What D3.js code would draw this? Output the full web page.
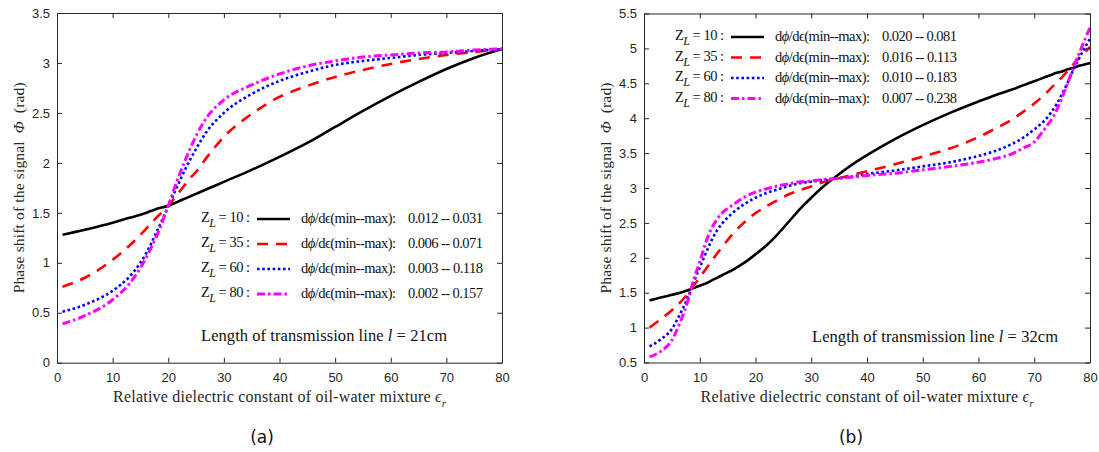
<!DOCTYPE html>
<html>
<head>
<meta charset="utf-8">
<script src="https://cdn.jsdelivr.net/npm/d3@7"></script>
<style>
  body { margin: 0; background: #fff; }
  svg { display: block; }
</style>
</head>
<body>
<div id="chart"></div>
<script>

// ---- data ----
// panel (a): line length 21 cm
var epsA = [1, 5, 10, 13, 15, 17, 18, 19, 20, 21, 22, 23, 24, 25, 27, 30, 35, 40, 45, 50, 55, 60, 65, 70, 75, 80];
var phiA_Z10 = [1.28, 1.33, 1.40, 1.45, 1.48, 1.52, 1.54, 1.555, 1.57, 1.594, 1.618, 1.642, 1.666, 1.69, 1.738, 1.81, 1.93, 2.06, 2.20, 2.36, 2.52, 2.67, 2.81, 2.94, 3.05, 3.14];
var phiA_Z35 = [0.76, 0.85, 1.03, 1.17, 1.28, 1.40, 1.46, 1.51, 1.57, 1.64, 1.71, 1.78, 1.85, 1.91, 2.06, 2.26, 2.49, 2.66, 2.77, 2.86, 2.93, 2.99, 3.04, 3.08, 3.11, 3.14];
var phiA_Z60 = [0.51, 0.58, 0.72, 0.86, 1.00, 1.20, 1.32, 1.44, 1.57, 1.69, 1.81, 1.93, 2.04, 2.14, 2.32, 2.50, 2.69, 2.82, 2.91, 2.98, 3.02, 3.05, 3.08, 3.10, 3.12, 3.14];
var phiA_Z80 = [0.39, 0.47, 0.63, 0.79, 0.95, 1.16, 1.28, 1.42, 1.57, 1.73, 1.88, 2.02, 2.15, 2.27, 2.46, 2.63, 2.78, 2.89, 2.97, 3.02, 3.06, 3.08, 3.10, 3.11, 3.13, 3.14];

// panel (b): line length 32 cm
var epsB = [1, 3, 5, 6.5, 8, 8.5, 9, 10, 11, 12, 13, 14, 16, 18, 20, 22, 24, 26, 28, 30, 32, 35, 38, 40, 45, 50, 55, 60, 63, 66, 68, 70, 72, 73, 74, 75, 76, 77, 78, 79, 80];
var phiB_Z10 = [1.39, 1.43, 1.47, 1.50, 1.54, 1.555, 1.57, 1.60, 1.63, 1.67, 1.71, 1.75, 1.83, 1.93, 2.05, 2.18, 2.34, 2.52, 2.70, 2.86, 3.01, 3.20, 3.37, 3.47, 3.70, 3.90, 4.08, 4.24, 4.33, 4.41, 4.47, 4.53, 4.59, 4.62, 4.65, 4.67, 4.70, 4.72, 4.75, 4.77, 4.79];
var phiB_Z35 = [1.00, 1.12, 1.25, 1.36, 1.50, 1.55, 1.61, 1.72, 1.83, 1.94, 2.05, 2.15, 2.35, 2.51, 2.64, 2.74, 2.83, 2.91, 2.97, 3.02, 3.08, 3.14, 3.20, 3.24, 3.34, 3.45, 3.57, 3.73, 3.85, 3.98, 4.09, 4.21, 4.35, 4.43, 4.51, 4.59, 4.68, 4.77, 4.86, 4.94, 5.02];
var phiB_Z60 = [0.73, 0.83, 0.98, 1.20, 1.46, 1.57, 1.67, 1.86, 2.05, 2.23, 2.38, 2.49, 2.65, 2.77, 2.86, 2.93, 2.98, 3.03, 3.07, 3.09, 3.11, 3.14, 3.17, 3.20, 3.25, 3.31, 3.37, 3.46, 3.53, 3.63, 3.72, 3.84, 3.98, 4.08, 4.20, 4.35, 4.51, 4.69, 4.85, 5.00, 5.14];
var phiB_Z80 = [0.58, 0.66, 0.82, 1.08, 1.42, 1.57, 1.71, 1.94, 2.20, 2.40, 2.54, 2.64, 2.76, 2.87, 2.94, 2.99, 3.03, 3.06, 3.09, 3.10, 3.12, 3.14, 3.16, 3.18, 3.21, 3.26, 3.31, 3.37, 3.42, 3.49, 3.57, 3.66, 3.86, 3.97, 4.11, 4.30, 4.50, 4.72, 4.92, 5.11, 5.30];

var loadZ = ["10", "35", "60", "80"];
var rangesA = ["0.012 -- 0.031", "0.006 -- 0.071", "0.003 -- 0.118", "0.002 -- 0.157"];
var rangesB = ["0.020 -- 0.081", "0.016 -- 0.113", "0.010 -- 0.183", "0.007 -- 0.238"];

var xTicks = [0, 10, 20, 30, 40, 50, 60, 70, 80];
var yTicksA = [0, 0.5, 1, 1.5, 2, 2.5, 3, 3.5];
var yTicksB = [0.5, 1, 1.5, 2, 2.5, 3, 3.5, 4, 4.5, 5, 5.5];

// ---- styles ----
var lineStyles = [
  { color: "#000000", dash: null,      width: 2.6 },
  { color: "#ff0000", dash: "11,8",    width: 2.6 },
  { color: "#0000ff", dash: "2.6,2.6", width: 2.6 },
  { color: "#ff00ff", dash: "8,3,2.5,3", width: 3 }
];

var W = 1099, H = 452;
var serifFont = "Liberation Serif";
var sansFont = "Liberation Sans";
var ink = "#262626";

var svg = d3.select("#chart").append("svg")
    .attr("width", W)
    .attr("height", H);

svg.append("rect").attr("width", W).attr("height", H).attr("fill", "#fff");

var panels = [
  {
    id: "a", box: {left: 57, right: 502, top: 13, bottom: 362.7},
    eps: epsA, series: [phiA_Z10, phiA_Z35, phiA_Z60, phiA_Z80],
    yDomain: [0, 3.5], yTicks: yTicksA, ranges: rangesA,
    legend: {x: 201, y0: 218, dy: 25},
    note: {x: 201, y: 340.5, len: "21cm"},
    ytitleX: 18.5, tag: {x: 262, y: 443}
  },
  {
    id: "b", box: {left: 644, right: 1090, top: 13.5, bottom: 362.5},
    eps: epsB, series: [phiB_Z10, phiB_Z35, phiB_Z60, phiB_Z80],
    yDomain: [0.5, 5.5], yTicks: yTicksB, ranges: rangesB,
    legend: {x: 675, y0: 36, dy: 20.5},
    note: {x: 812, y: 341.5, len: "32cm"},
    ytitleX: 606, tag: {x: 851, y: 443}
  }
];

panels.forEach(function(p) {
  var b = p.box;
  var x = d3.scaleLinear().domain([0, 80]).range([b.left, b.right]);
  var y = d3.scaleLinear().domain(p.yDomain).range([b.bottom, b.top]);
  var g = svg.append("g").attr("class", "panel-" + p.id);

  // clip for curves
  var clipId = "clip-" + p.id;
  g.append("clipPath").attr("id", clipId)
    .append("rect")
      .attr("x", b.left).attr("y", b.top)
      .attr("width", b.right - b.left).attr("height", b.bottom - b.top);

  // curves
  var line = d3.line()
      .x(function(d) { return x(d[0]); })
      .y(function(d) { return y(d[1]); })
      .curve(d3.curveMonotoneX);

  p.series.forEach(function(vals, i) {
    var st = lineStyles[i];
    var pts = p.eps.map(function(e, k) { return [e, vals[k]]; });
    g.append("path")
      .datum(pts)
      .attr("clip-path", "url(#" + clipId + ")")
      .attr("fill", "none")
      .attr("stroke", st.color)
      .attr("stroke-width", st.width)
      .attr("stroke-dasharray", st.dash)
      .attr("d", line);
  });

  // axes (ticks pointing inwards, box all round)
  var axB = g.append("g")
      .attr("transform", "translate(0," + b.bottom + ")")
      .call(d3.axisBottom(x).tickValues(xTicks).tickSizeInner(-5).tickSizeOuter(0).tickPadding(10));
  var axT = g.append("g")
      .attr("transform", "translate(0," + b.top + ")")
      .call(d3.axisTop(x).tickValues(xTicks).tickSizeInner(-5).tickSizeOuter(0).tickFormat(""));
  var axL = g.append("g")
      .attr("transform", "translate(" + b.left + ",0)")
      .call(d3.axisLeft(y).tickValues(p.yTicks).tickSizeInner(-5).tickSizeOuter(0).tickPadding(7)
        .tickFormat(d3.format("~g")));
  var axR = g.append("g")
      .attr("transform", "translate(" + b.right + ",0)")
      .call(d3.axisRight(y).tickValues(p.yTicks).tickSizeInner(-5).tickSizeOuter(0).tickFormat(""));

  [axB, axT, axL, axR].forEach(function(a) {
    a.attr("font-family", sansFont).attr("font-size", 13);
    a.selectAll("path, line").attr("stroke", ink).attr("stroke-width", 1);
    a.selectAll("text").attr("fill", ink);
  });

  // x axis title
  var xt = g.append("text")
      .attr("x", (b.left + b.right) / 2)
      .attr("y", 402)
      .attr("text-anchor", "middle")
      .attr("fill", ink)
      .attr("font-family", serifFont)
      .attr("font-size", 16)
      .attr("textLength", 333)
      .attr("lengthAdjust", "spacing");
  xt.append("tspan").text("Relative dielectric constant of oil-water mixture ");
  xt.append("tspan").attr("font-style", "italic").text("\u03f5");
  xt.append("tspan").attr("dy", 5).attr("font-style", "italic").attr("font-size", 11).text("r");

  // y axis title
  var yt = g.append("text")
      .attr("transform", "translate(" + p.ytitleX + "," + ((b.top + b.bottom) / 2) + ") rotate(-90)")
      .attr("text-anchor", "middle")
      .attr("dy", "0.35em")
      .attr("fill", ink)
      .attr("font-family", serifFont)
      .attr("font-size", 15.5)
      .attr("textLength", 211)
      .attr("lengthAdjust", "spacing");
  yt.append("tspan").text("Phase shift of the signal\u00a0 ");
  yt.append("tspan").attr("font-style", "italic").text("\u03a6");
  yt.append("tspan").text("\u00a0 (rad)");

  // legend
  var L = p.legend;
  loadZ.forEach(function(z, i) {
    var cy = L.y0 + i * L.dy;
    var st = lineStyles[i];
    var t = g.append("text")
        .attr("x", L.x).attr("y", cy + 4)
        .attr("fill", "#111")
        .attr("font-family", serifFont)
        .attr("font-size", 14.5)
        .attr("textLength", 49)
        .attr("lengthAdjust", "spacing");
    t.append("tspan").text("Z");
    t.append("tspan").attr("dy", 5).attr("font-style", "italic").attr("font-size", 12).text("L");
    t.append("tspan").attr("dy", -5).text(" = " + z + " :");

    g.append("line")
      .attr("x1", L.x + 56).attr("x2", L.x + 89)
      .attr("y1", cy + 1).attr("y2", cy + 1)
      .attr("stroke", st.color)
      .attr("stroke-width", st.width)
      .attr("stroke-dasharray", st.dash);

    var d = g.append("text")
        .attr("x", L.x + 100).attr("y", cy + 5)
        .attr("fill", "#111")
        .attr("font-family", serifFont)
        .attr("font-size", 14.5)
        .attr("textLength", 95)
        .attr("lengthAdjust", "spacing");
    d.append("tspan").text("d");
    d.append("tspan").attr("font-style", "italic").text("\u03d5");
    d.append("tspan").text("/d\u03f5(min--max):");

    g.append("text")
      .attr("x", L.x + 207).attr("y", cy + 5)
      .attr("fill", "#111")
      .attr("font-family", serifFont)
      .attr("font-size", 14.5)
      .attr("textLength", 75)
      .attr("lengthAdjust", "spacing")
      .text(p.ranges[i]);
  });

  // note
  var n = g.append("text")
      .attr("x", p.note.x).attr("y", p.note.y)
      .attr("fill", "#111")
      .attr("font-family", serifFont)
      .attr("font-size", 16.5)
      .attr("textLength", 246)
      .attr("lengthAdjust", "spacing");
  n.append("tspan").text("Length of transmission line ");
  n.append("tspan").attr("font-style", "italic").text("l");
  n.append("tspan").text(" = " + p.note.len);

  // panel tag
  g.append("text")
    .attr("x", p.tag.x).attr("y", p.tag.y)
    .attr("text-anchor", "middle")
    .attr("fill", "#111")
    .attr("font-family", "DejaVu Sans")
    .attr("font-size", 17)
    .text("(" + p.id + ")");
});

</script>
</body>
</html>
